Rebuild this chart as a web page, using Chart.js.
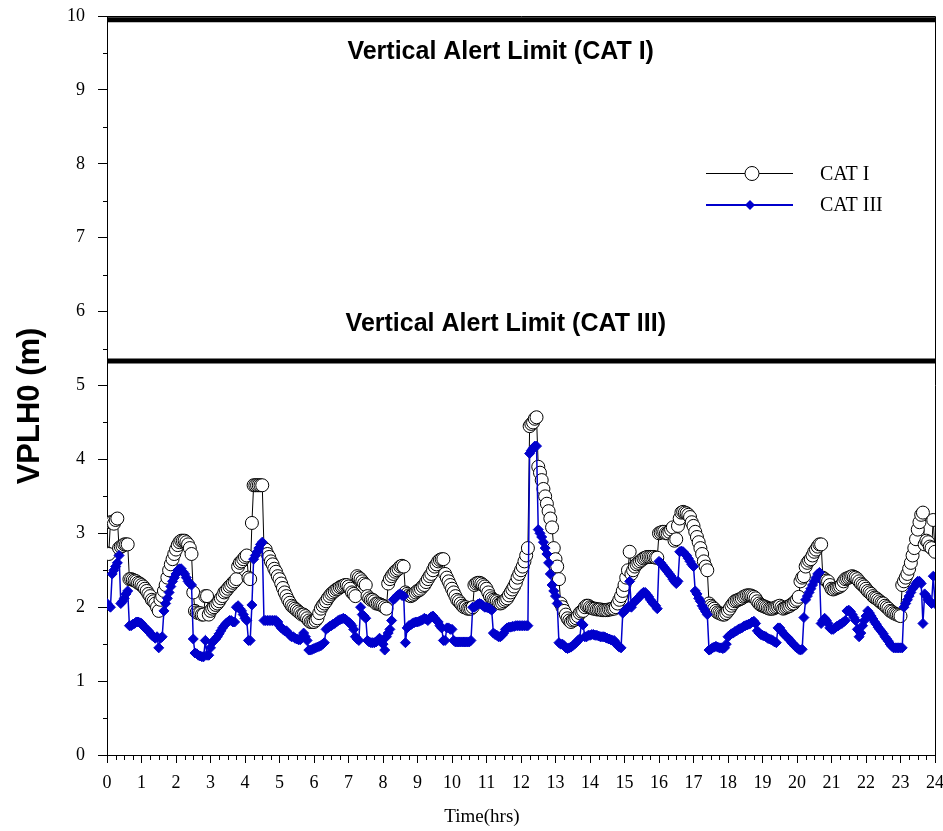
<!DOCTYPE html>
<html>
<head>
<meta charset="utf-8">
<script src="https://cdn.jsdelivr.net/npm/chart.js@4.4.1/dist/chart.umd.min.js"></script>
<style>
  html, body { margin: 0; padding: 0; background: #fff; }
  #wrap { width: 943px; height: 831px; position: relative; }
</style>
</head>
<body>
<div id="wrap"><canvas id="chart"></canvas></div>
<script>
// sampling: one reading every 0.05 h (3 min) from 0 to 24 h
const startHour = 0;
const stepHour = 0.05;

// VPL H0 for CAT I (m), one row per hour
const catOne = [
  2.73, 2.72, 3.15, 3.15, 3.13, 3.18, 3.2, 2.8, 2.82, 2.83, 2.85, 2.85, 2.85, 2.38, 2.38, 2.37, 2.36, 2.35, 2.33, 2.32,   // 0
  2.3, 2.28, 2.25, 2.22, 2.18, 2.15, 2.1, 2.08, 2.05, 2.0, 1.95, 2.1, 2.15, 2.22, 2.3, 2.4, 2.5, 2.58, 2.65, 2.72,       // 1
  2.78, 2.84, 2.88, 2.9, 2.9, 2.9, 2.88, 2.85, 2.8, 2.72, 2.2, 1.95, 1.93, 1.92, 1.92, 1.9, 1.9, 2.15, 2.15, 1.9,        // 2
  1.95, 1.98, 2.0, 2.03, 2.05, 2.08, 2.12, 2.15, 2.2, 2.22, 2.25, 2.28, 2.3, 2.33, 2.35, 2.38, 2.55, 2.6, 2.62, 2.65,    // 3
  2.68, 2.7, 2.4, 2.38, 3.14, 3.65, 3.65, 3.65, 3.65, 3.65, 3.65, 2.8, 2.78, 2.72, 2.68, 2.62, 2.58, 2.52, 2.48, 2.42,  // 4
  2.38, 2.32, 2.26, 2.2, 2.15, 2.1, 2.06, 2.02, 2.0, 1.98, 1.96, 1.94, 1.92, 1.9, 1.9, 1.88, 1.85, 1.82, 1.8, 1.8,      // 5
  1.8, 1.82, 1.85, 1.92, 1.98, 2.02, 2.05, 2.08, 2.12, 2.15, 2.18, 2.2, 2.22, 2.24, 2.25, 2.27, 2.28, 2.29, 2.3, 2.3,   // 6
  2.28, 2.25, 2.2, 2.18, 2.15, 2.42, 2.4, 2.38, 2.35, 2.32, 2.3, 2.15, 2.12, 2.1, 2.1, 2.08, 2.05, 2.05, 2.04, 2.03,    // 7
  2.02, 2.0, 1.98, 2.32, 2.38, 2.42, 2.45, 2.48, 2.5, 2.52, 2.55, 2.56, 2.55, 2.2, 2.18, 2.16, 2.15, 2.16, 2.18, 2.2,   // 8
  2.22, 2.23, 2.25, 2.28, 2.3, 2.34, 2.38, 2.42, 2.45, 2.5, 2.55, 2.58, 2.62, 2.64, 2.65, 2.65, 2.45, 2.4, 2.35, 2.3,   // 9
  2.25, 2.2, 2.15, 2.1, 2.08, 2.05, 2.02, 2.0, 2.0, 1.98, 1.98, 1.98, 2.0, 2.3, 2.32, 2.33, 2.33, 2.32, 2.3, 2.28,      // 10
  2.25, 2.2, 2.15, 2.12, 2.1, 2.09, 2.08, 2.06, 2.05, 2.06, 2.08, 2.1, 2.12, 2.16, 2.2, 2.24, 2.28, 2.33, 2.4, 2.45,     // 11
  2.5, 2.55, 2.62, 2.7, 2.8, 4.45, 4.48, 4.5, 4.55, 4.57, 3.9, 3.82, 3.72, 3.6, 3.5, 3.4, 3.3, 3.2, 3.08, 2.8,          // 12
  2.65, 2.55, 2.38, 2.05, 2.0, 1.95, 1.9, 1.85, 1.82, 1.8, 1.82, 1.83, 1.85, 1.88, 1.92, 1.94, 1.95, 2.0, 2.02, 2.02,   // 13
  2.0, 1.99, 1.98, 1.98, 1.97, 1.97, 1.97, 1.96, 1.96, 1.96, 1.96, 1.97, 1.97, 1.98, 1.98, 2.0, 2.05, 2.1, 2.15, 2.22,  // 14
  2.3, 2.4, 2.5, 2.75, 2.45, 2.5, 2.55, 2.58, 2.6, 2.62, 2.64, 2.66, 2.67, 2.68, 2.68, 2.68, 2.68, 2.68, 2.67, 2.67,    // 15
  3.0, 3.01, 3.02, 3.02, 3.0, 3.0, 3.02, 3.05, 3.08, 2.9, 2.92, 3.1, 3.2, 3.28, 3.29, 3.28, 3.27, 3.25, 3.22, 3.15,     // 16
  3.1, 3.02, 2.95, 2.88, 2.8, 2.72, 2.62, 2.55, 2.5, 2.05, 2.02, 2.0, 1.98, 1.95, 1.93, 1.92, 1.91, 1.9, 1.9, 1.92,     // 17
  1.95, 1.98, 2.02, 2.05, 2.08, 2.09, 2.1, 2.11, 2.12, 2.14, 2.15, 2.16, 2.16, 2.16, 2.15, 2.14, 2.12, 2.08, 2.05, 2.03, // 18
  2.02, 2.01, 2.0, 1.99, 1.98, 1.98, 1.98, 1.99, 2.0, 2.01, 2.02, 2.0, 1.98, 1.99, 2.0, 2.01, 2.02, 2.04, 2.05, 2.08,   // 19
  2.1, 2.14, 2.35, 2.4, 2.42, 2.55, 2.6, 2.63, 2.65, 2.7, 2.75, 2.78, 2.82, 2.85, 2.85, 2.4, 2.38, 2.36, 2.35, 2.3,     // 20
  2.25, 2.24, 2.25, 2.26, 2.27, 2.28, 2.3, 2.35, 2.38, 2.39, 2.4, 2.41, 2.42, 2.41, 2.4, 2.38, 2.35, 2.32, 2.3, 2.28,   // 21
  2.25, 2.22, 2.2, 2.18, 2.15, 2.13, 2.12, 2.1, 2.08, 2.06, 2.05, 2.02, 2.0, 1.98, 1.95, 1.94, 1.92, 1.91, 1.9, 1.89,   // 22
  1.88, 2.3, 2.35, 2.4, 2.45, 2.52, 2.6, 2.7, 2.8, 2.92, 3.05, 3.15, 3.25, 3.28, 2.85, 2.9, 2.88, 2.82, 2.8, 3.18,      // 23
  2.75                                                                                                                   // 24
];

// VPL H0 for CAT III (m), one row per hour
const catThree = [
  2.05, 2.02, 2.0, 2.45, 2.5, 2.55, 2.6, 2.7, 2.05, 2.08, 2.12, 2.18, 2.22, 1.75, 1.75, 1.77, 1.78, 1.8, 1.8, 1.79,     // 0
  1.78, 1.75, 1.72, 1.7, 1.68, 1.65, 1.62, 1.6, 1.58, 1.6, 1.45, 1.58, 1.6, 1.95, 2.05, 2.12, 2.2, 2.28, 2.35, 2.4,     // 1
  2.45, 2.5, 2.52, 2.52, 2.48, 2.45, 2.4, 2.35, 2.32, 2.3, 1.57, 1.38, 1.37, 1.35, 1.34, 1.33, 1.33, 1.55, 1.35, 1.35,  // 2
  1.45, 1.52, 1.55, 1.57, 1.6, 1.64, 1.68, 1.72, 1.75, 1.78, 1.8, 1.82, 1.82, 1.8, 1.8, 2.0, 2.02, 1.98, 1.95, 1.9,     // 3
  1.85, 1.82, 1.55, 1.55, 2.03, 2.65, 2.7, 2.75, 2.8, 2.85, 2.88, 1.82, 1.82, 1.82, 1.82, 1.82, 1.82, 1.82, 1.82, 1.8,  // 4
  1.75, 1.72, 1.7, 1.68, 1.68, 1.65, 1.62, 1.6, 1.6, 1.58, 1.57, 1.56, 1.56, 1.6, 1.65, 1.6, 1.55, 1.42, 1.42, 1.43,    // 5
  1.44, 1.45, 1.46, 1.47, 1.48, 1.5, 1.52, 1.7, 1.72, 1.74, 1.75, 1.77, 1.78, 1.8, 1.82, 1.83, 1.84, 1.85, 1.84, 1.82,  // 6
  1.8, 1.78, 1.75, 1.7, 1.6, 1.57, 1.55, 2.0, 1.9, 1.88, 1.85, 1.55, 1.53, 1.52, 1.52, 1.52, 1.53, 1.55, 1.58, 1.55,    // 7
  1.5, 1.42, 1.6, 1.65, 1.7, 1.82, 2.1, 2.12, 2.15, 2.17, 2.18, 2.16, 2.15, 1.52, 1.72, 1.75, 1.76, 1.78, 1.79, 1.8,    // 8
  1.8, 1.81, 1.82, 1.83, 1.85, 1.84, 1.82, 1.85, 1.87, 1.88, 1.85, 1.82, 1.8, 1.75, 1.72, 1.55, 1.55, 1.72, 1.72, 1.7,  // 9
  1.7, 1.55, 1.53, 1.53, 1.53, 1.53, 1.53, 1.53, 1.53, 1.53, 1.53, 1.55, 2.0, 2.0, 2.02, 2.04, 2.05, 2.04, 2.02, 2.0,   // 10
  2.0, 1.99, 1.98, 1.96, 1.65, 1.63, 1.62, 1.6, 1.6, 1.62, 1.65, 1.7, 1.72, 1.73, 1.73, 1.74, 1.74, 1.75, 1.75, 1.75,   // 11
  1.75, 1.75, 1.75, 1.75, 1.75, 4.08, 4.12, 4.15, 4.18, 4.18, 3.05, 3.0, 2.95, 2.88, 2.8, 2.72, 2.6, 2.45, 2.3, 2.22,   // 12
  2.15, 2.05, 1.52, 1.5, 1.5, 1.48, 1.45, 1.44, 1.45, 1.46, 1.48, 1.5, 1.52, 1.55, 1.57, 1.78, 1.76, 1.6, 1.6, 1.62,    // 13
  1.62, 1.63, 1.63, 1.62, 1.62, 1.61, 1.6, 1.6, 1.6, 1.59, 1.58, 1.57, 1.56, 1.55, 1.55, 1.52, 1.48, 1.46, 1.45, 1.92,  // 14
  1.95, 1.97, 2.0, 2.35, 2.0, 2.05, 2.08, 2.1, 2.12, 2.15, 2.18, 2.2, 2.2, 2.17, 2.14, 2.1, 2.07, 2.04, 2.02, 1.98,     // 15
  2.62, 2.6, 2.57, 2.54, 2.51, 2.48, 2.45, 2.42, 2.38, 2.35, 2.32, 2.35, 2.75, 2.76, 2.75, 2.72, 2.7, 2.66, 2.62, 2.58, // 16
  2.55, 2.22, 2.18, 2.12, 2.08, 2.02, 1.98, 1.94, 1.9, 1.42, 1.43, 1.45, 1.46, 1.47, 1.46, 1.45, 1.45, 1.44, 1.45, 1.5, // 17
  1.6, 1.62, 1.64, 1.65, 1.67, 1.68, 1.7, 1.71, 1.72, 1.74, 1.75, 1.76, 1.77, 1.78, 1.8, 1.81, 1.78, 1.68, 1.65, 1.63,  // 18
  1.62, 1.61, 1.6, 1.58, 1.57, 1.56, 1.55, 1.53, 1.52, 1.72, 1.72, 1.68, 1.65, 1.62, 1.6, 1.58, 1.55, 1.52, 1.5, 1.47,  // 19
  1.45, 1.43, 1.42, 1.43, 1.86, 2.1, 2.15, 2.2, 2.25, 2.3, 2.35, 2.4, 2.45, 2.47, 1.78, 1.82, 1.85, 1.82, 1.78, 1.72,   // 20
  1.7, 1.7, 1.72, 1.74, 1.75, 1.77, 1.78, 1.8, 1.82, 1.95, 1.96, 1.94, 1.9, 1.86, 1.82, 1.7, 1.6, 1.65, 1.75, 1.82,     // 21
  1.88, 1.95, 1.92, 1.88, 1.84, 1.8, 1.77, 1.73, 1.7, 1.67, 1.64, 1.6, 1.57, 1.54, 1.5, 1.47, 1.45, 1.45, 1.45, 1.45,   // 22
  1.45, 1.45, 2.0, 2.05, 2.1, 2.15, 2.2, 2.25, 2.28, 2.32, 2.35, 2.35, 2.32, 1.78, 2.18, 2.15, 2.1, 2.08, 2.05, 2.42,   // 23
  2.05                                                                                                                   // 24
];

// alert limits (m)
const catOneLimit = 9.95;
const catThreeLimit = 5.33;
const limitLabels = ['Vertical Alert Limit (CAT I)', 'Vertical Alert Limit (CAT III)'];

const xTicks = [0, 1, 2, 3, 4, 5, 6, 7, 8, 9, 10, 11, 12, 13, 14, 15, 16, 17, 18, 19, 20, 21, 22, 23, 24];
const yTicks = [0, 1, 2, 3, 4, 5, 6, 7, 8, 9, 10];

const serif = "'Liberation Serif', 'Times New Roman', serif";
const sans = "'Liberation Sans', Arial, sans-serif";
const blue = '#0000cc';

function toPoints(values) {
    return values.map((v, i) => ({ x: +(startHour + i * stepHour).toFixed(2), y: v }));
}

// frame, minor ticks, limit labels, legend and axis titles
const extrasPlugin = {
    id: 'extras',
    afterDraw(chart) {
        const ctx = chart.ctx;
        const area = chart.chartArea;
        const xs = chart.scales.x;
        const ys = chart.scales.y;
        ctx.save();

        // top and right frame
        ctx.strokeStyle = '#000';
        ctx.lineWidth = 1;
        ctx.beginPath();
        ctx.moveTo(area.left, Math.round(area.top) + 0.5);
        ctx.lineTo(Math.round(area.right) + 0.5, Math.round(area.top) + 0.5);
        ctx.lineTo(Math.round(area.right) + 0.5, area.bottom);
        ctx.stroke();

        // minor ticks
        ctx.beginPath();
        for (let h = 0; h < 24; h++) {
            [0.25, 0.5, 0.75].forEach(f => {
                const px = Math.round(xs.getPixelForValue(h + f)) + 0.5;
                ctx.moveTo(px, area.bottom);
                ctx.lineTo(px, area.bottom + 5);
            });
        }
        for (let v = 0; v < 10; v++) {
            const py = Math.round(ys.getPixelForValue(v + 0.5)) + 0.5;
            ctx.moveTo(area.left, py);
            ctx.lineTo(area.left - 4, py);
        }
        ctx.stroke();

        // alert limit labels
        ctx.fillStyle = '#000';
        ctx.font = 'bold 25px ' + sans;
        ctx.textAlign = 'center';
        ctx.textBaseline = 'middle';
        ctx.fillText(limitLabels[0], xs.getPixelForValue(11.41), ys.getPixelForValue(9.51));
        ctx.fillText(limitLabels[1], xs.getPixelForValue(11.56), ys.getPixelForValue(5.83));

        // legend
        const legendItems = [
            { label: 'CAT I', y: 173.5, color: '#000', width: 1, marker: 'circle' },
            { label: 'CAT III', y: 205, color: blue, width: 2, marker: 'diamond' }
        ];
        legendItems.forEach(item => {
            ctx.strokeStyle = item.color;
            ctx.lineWidth = item.width;
            ctx.beginPath();
            ctx.moveTo(706, item.y);
            ctx.lineTo(793, item.y);
            ctx.stroke();
            ctx.beginPath();
            if (item.marker === 'circle') {
                ctx.arc(752, item.y, 7, 0, Math.PI * 2);
                ctx.fillStyle = '#fff';
                ctx.fill();
                ctx.lineWidth = 1;
                ctx.stroke();
            } else {
                ctx.moveTo(750, item.y - 5);
                ctx.lineTo(755, item.y);
                ctx.lineTo(750, item.y + 5);
                ctx.lineTo(745, item.y);
                ctx.closePath();
                ctx.fillStyle = item.color;
                ctx.fill();
            }
            ctx.fillStyle = '#000';
            ctx.font = '20px ' + serif;
            ctx.textAlign = 'left';
            ctx.textBaseline = 'middle';
            ctx.fillText(item.label, 820, item.y + 1);
        });

        // axis titles
        ctx.fillStyle = '#000';
        ctx.font = '19px ' + serif;
        ctx.textAlign = 'center';
        ctx.textBaseline = 'middle';
        ctx.fillText('Time(hrs)', 482, 817);

        ctx.translate(30, 406);
        ctx.rotate(-Math.PI / 2);
        ctx.font = 'bold 31px ' + sans;
        ctx.fillText('VPLH0 (m)', 0, 0);
        ctx.restore();
    }
};

const ctx = document.getElementById('chart').getContext('2d');
const chart = new Chart(ctx, {
    type: 'line',
    data: {
        datasets: [
            {
                label: 'CAT I',
                data: toPoints(catOne),
                borderColor: '#000',
                borderWidth: 1,
                pointStyle: 'circle',
                pointRadius: 6.5,
                pointBackgroundColor: '#fff',
                pointBorderColor: '#000',
                pointBorderWidth: 1,
                order: 3
            },
            {
                label: 'CAT III',
                data: toPoints(catThree),
                borderColor: blue,
                borderWidth: 1.5,
                pointStyle: 'rectRot',
                pointRadius: 5,
                pointBackgroundColor: blue,
                pointBorderColor: blue,
                pointBorderWidth: 1,
                order: 2
            },
            {
                label: 'limit CAT I',
                data: [{ x: 0, y: catOneLimit }, { x: 24, y: catOneLimit }],
                borderColor: '#000',
                borderWidth: 5,
                pointRadius: 0,
                order: 1
            },
            {
                label: 'limit CAT III',
                data: [{ x: 0, y: catThreeLimit }, { x: 24, y: catThreeLimit }],
                borderColor: '#000',
                borderWidth: 5,
                pointRadius: 0,
                order: 1
            }
        ]
    },
    options: {
        responsive: true,
        maintainAspectRatio: false,
        animation: false,
        devicePixelRatio: 1,
        layout: { autoPadding: false, padding: { left: 0, right: 8, top: 16, bottom: 0 } },
        plugins: {
            legend: { display: false },
            tooltip: { enabled: false }
        },
        elements: { line: { tension: 0 } },
        scales: {
            x: {
                type: 'linear',
                min: 0,
                max: 24,
                afterBuildTicks: scale => { scale.ticks = xTicks.map(v => ({ value: v })); },
                afterFit: scale => {
                    scale.height = 76;
                    scale.paddingLeft = 0;
                    scale.paddingRight = 8;
                },
                ticks: {
                    color: '#000',
                    font: { family: serif, size: 18 },
                    padding: 9,
                    maxRotation: 0,
                    autoSkip: false
                },
                grid: { drawOnChartArea: false, drawTicks: true, tickLength: 8, color: '#000' },
                border: { display: true, color: '#000', width: 1 }
            },
            y: {
                min: 0,
                max: 10,
                afterBuildTicks: scale => { scale.ticks = yTicks.map(v => ({ value: v })); },
                afterFit: scale => {
                    scale.width = 107;
                    scale.paddingTop = 16;
                    scale.paddingBottom = 0;
                },
                ticks: {
                    color: '#000',
                    font: { family: serif, size: 18 },
                    padding: 13
                },
                grid: { drawOnChartArea: false, drawTicks: true, tickLength: 9, color: '#000' },
                border: { display: true, color: '#000', width: 1 }
            }
        }
    },
    plugins: [extrasPlugin]
});
</script>
</body>
</html>
